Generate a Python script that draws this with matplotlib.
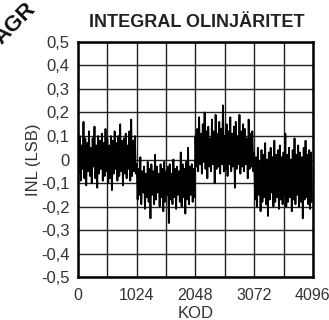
import numpy as np
import matplotlib
matplotlib.use('Agg')
import matplotlib.pyplot as plt

plt.rcParams['font.family'] = ['Liberation Sans', 'DejaVu Sans']

# INL values, one typed value every 16 codes, per 1024-code segment
seg1 = [0.08, -0.06, 0.10, -0.09, 0.06, -0.04, 0.16, -0.08, 0.09, -0.11, 0.07, -0.05, 0.12, -0.07, 0.05, -0.10,
        0.09, -0.03, 0.14, -0.08, 0.06, -0.12, 0.10, -0.06, 0.08, -0.04, 0.11, -0.09, 0.07, -0.07, 0.13, -0.05,
        0.09, -0.10, 0.06, -0.08, 0.10, -0.13, 0.08, -0.06, 0.12, -0.04, 0.07, -0.09, 0.10, -0.07, 0.15, -0.05,
        0.08, -0.11, 0.09, -0.06, 0.11, -0.08, 0.06, -0.04, 0.12, -0.09, 0.17, -0.07, 0.08, -0.05, 0.10, -0.06]
seg2 = [-0.02, -0.17, -0.04, -0.15, 0.01, -0.19, -0.05, -0.14, -0.03, -0.21, -0.06, -0.16, -0.01, -0.18, -0.04, -0.25,
        -0.02, -0.15, -0.05, -0.19, 0.02, -0.17, -0.03, -0.14, -0.06, -0.20, -0.02, -0.16, -0.04, -0.22, -0.01, -0.18,
        -0.05, -0.15, -0.03, -0.27, -0.02, -0.17, -0.06, -0.19, 0.00, -0.16, -0.04, -0.21, -0.03, -0.15, -0.05, -0.18,
        0.03, -0.20, -0.02, -0.16, -0.04, -0.23, -0.01, -0.17, 0.05, -0.19, -0.03, -0.15, -0.02, -0.18, -0.04, -0.16]
seg3 = [0.10, -0.03, 0.13, -0.05, 0.18, -0.02, 0.11, -0.06, 0.15, -0.01, 0.20, -0.04, 0.12, -0.08, 0.14, -0.03,
        0.09, -0.05, 0.17, -0.02, 0.12, -0.10, 0.19, -0.04, 0.11, -0.03, 0.16, -0.06, 0.13, -0.02, 0.23, -0.05,
        0.10, -0.04, 0.15, -0.07, 0.12, -0.02, 0.18, -0.05, 0.11, -0.03, 0.14, -0.12, 0.16, -0.04, 0.10, -0.02,
        0.19, -0.06, 0.12, -0.03, 0.15, -0.05, 0.13, -0.02, 0.09, -0.08, 0.17, -0.04, 0.11, -0.03, 0.12, -0.05]
seg4 = [0.03, -0.17, 0.01, -0.20, 0.05, -0.15, -0.01, -0.22, 0.04, -0.18, 0.02, -0.16, 0.07, -0.19, 0.00, -0.24,
        0.03, -0.17, 0.05, -0.14, 0.01, -0.20, 0.08, -0.18, 0.02, -0.16, 0.04, -0.21, 0.06, -0.17, 0.01, -0.19,
        0.03, -0.15, 0.11, -0.20, 0.02, -0.18, 0.05, -0.16, 0.00, -0.22, 0.04, -0.17, 0.09, -0.19, 0.02, -0.15,
        0.06, -0.20, 0.03, -0.18, 0.01, -0.25, 0.05, -0.17, 0.08, -0.16, 0.02, -0.19, 0.04, -0.21, 0.03, -0.18]

y_ticks = [0.5, 0.4, 0.3, 0.2, 0.1, 0, -0.1, -0.2, -0.3, -0.4, -0.5]
y_labels = ['0,5', '0,4', '0,3', '0,2', '0,1', '0', '-0,1', '-0,2', '-0,3', '-0,4', '-0,5']

inl = np.array(seg1 + seg2 + seg3 + seg4)
kod = np.arange(len(inl)) * 16

fig = plt.figure(figsize=(3.29, 3.20), dpi=100)
ax = fig.add_axes([0.237, 0.134, 0.714, 0.735])

ax.plot(kod, inl, color='black', linewidth=1.3)

ax.set_xlim(0, 4096)
ax.set_ylim(-0.5, 0.5)
ax.set_xticks(np.arange(0, 4097, 512))
ax.set_xticklabels(['' if k % 1024 else str(k) for k in range(0, 4097, 512)])
ax.set_yticks(y_ticks)
ax.set_yticklabels(y_labels)
ax.grid(True, color='#222222', linewidth=1.0)
ax.tick_params(axis='y', length=0, labelsize=12, colors='#333333', pad=6)
ax.tick_params(axis='x', length=0, labelsize=11.5, colors='#333333', pad=8)
for s in ax.spines.values():
    s.set_linewidth(1.8)

ax.set_xlabel('KOD', fontsize=12, color='#333333', labelpad=2)
ax.set_ylabel('INL (LSB)', fontsize=12, color='#333333', labelpad=0)
fig.text(0.597, 0.93, 'INTEGRAL OLINJÄRITET', ha='center', va='center',
         fontsize=13, fontweight='bold', color='#222222')

# bit of a neighbouring stamp in the scan's corner
fig.text(0.045, 0.925, 'AGR', ha='center', va='center', rotation=45,
         fontsize=16, fontweight='bold', color='#111111')

fig.savefig('out.png', dpi=100)
